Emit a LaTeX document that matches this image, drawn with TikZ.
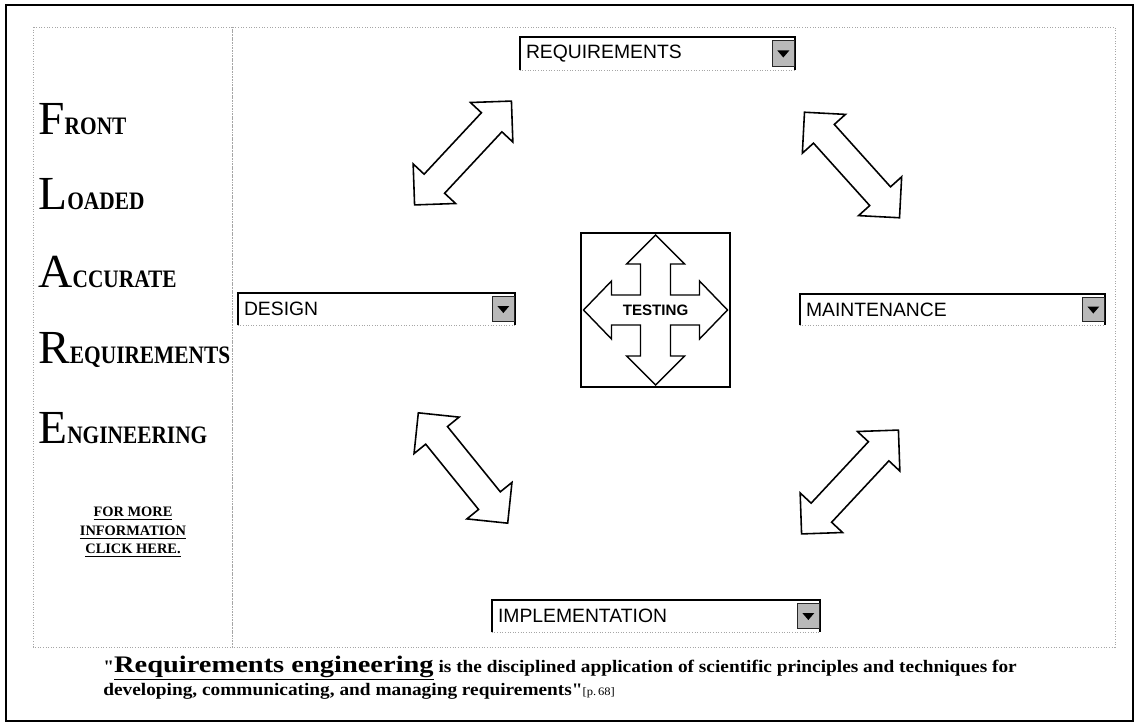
\documentclass[tikz,border=0pt]{standalone}
\usepackage{fontspec}
\setmainfont{Liberation Serif}
\newfontfamily\uifont{Liberation Sans}
\newfontfamily\capsfont[FakeStretch=0.85]{Liberation Serif}
\newfontfamily\quotefont[FakeStretch=1.1]{Liberation Serif}
\newfontfamily\keyfont[FakeStretch=1.2]{Liberation Serif}
\usetikzlibrary{calc}

\newcommand\initialword[2]{{\fontsize{27}{27}\selectfont #1}{\capsfont\bfseries\fontsize{14.3}{14.3}\selectfont #2}}

\newcommand\comboframe[1]{%
  \draw[combobottom] (#1.south west) -- (#1.south east);
  \draw[combotop] (#1.south west) -- (#1.north west) -- (#1.north east) -- (#1.south east);
  \draw[combobutton] ($(#1.north east)+(-23,4)$) rectangle ($(#1.south east)+(-1,-4)$);
  \fill ($(#1.east)+(-18,-3)$) -- ($(#1.east)+(-6,-3)$) -- ($(#1.east)+(-12,4)$) -- cycle;
}

\tikzset{
  panel/.style={draw=gray!70, densely dotted, line width=0.5pt},
  combobox/.style={inner xsep=0.12cm, inner ysep=0pt, align=left, font=\uifont\fontsize{11}{11}\selectfont},
  combotop/.style={line width=1pt},
  combobottom/.style={draw=gray!70, densely dotted, line width=0.5pt},
  combobutton/.style={fill=gray!55, draw=gray!30!black, line width=0.4pt},
  crossline/.style={line width=0.8pt, line join=miter},
  arrowline/.style={line width=0.9pt, line join=miter, fill=white},
  bigword/.style={anchor=base west, inner sep=0pt},
  quoteline/.style={anchor=base west, inner sep=0pt, font=\quotefont\bfseries\fontsize{10}{10}\selectfont},
  dblarrow/.pic={
    \draw[arrowline] (-71,0) -- (-42,-29) -- (-42,-14) -- (42,-14) -- (42,-29)
      -- (71,0) -- (42,29) -- (42,14) -- (-42,14) -- (-42,29) -- cycle;
  }
}

\begin{document}
\begin{tikzpicture}[x=0.02cm, y=-0.02cm]
        \useasboundingbox (0,0) rectangle (1138,726);

        \draw[line width=1.2pt] (6,5) rectangle (1133,721);
        \draw[panel] (33,27) rectangle (232,647);
        \draw[panel] (232,27) rectangle (1115,647);

        \node[bigword] (front) at (38,135) {\initialword{F}{RONT}};
        \node[bigword] (loaded) at (38,210) {\initialword{L}{OADED}};
        \node[bigword] (accurate) at (38,287) {\initialword{A}{CCURATE}};
        \node[bigword] (requirements) at (38,363) {\initialword{R}{EQUIREMENTS}};
        \node[bigword] (engineering) at (38,443) {\initialword{E}{NGINEERING}};

        \node[anchor=north, inner sep=0pt, align=center, font=\bfseries\fontsize{8.2}{10.5}\selectfont] (moreinfo) at (133,507)
            {\underline{FOR MORE}\\\underline{INFORMATION}\\\underline{CLICK HERE.}};

        \node[combobox, text width=5.26cm, minimum height=0.66cm] (req) at (657.5,53.5) {REQUIREMENTS};
        \comboframe{req}
        \node[combobox, text width=5.30cm, minimum height=0.64cm] (design) at (376.5,309) {DESIGN};
        \comboframe{design}
        \node[combobox, text width=5.86cm, minimum height=0.62cm] (maint) at (952.5,309.5) {MAINTENANCE};
        \comboframe{maint}
        \node[combobox, text width=6.32cm, minimum height=0.64cm] (impl) at (656,616) {IMPLEMENTATION};
        \comboframe{impl}

        \node[draw, line width=0.9pt, minimum width=2.98cm, minimum height=3.08cm,
              font=\uifont\bfseries\fontsize{8.6}{8.6}\selectfont] (testing) at (655.5,310) {TESTING};
        \draw[crossline, shift={(testing.center)}] (0,-75) -- (29,-46) -- (15,-46) -- (15,-15) -- (44,-15) -- (44,-29)
            -- (72,0) -- (44,29) -- (44,15) -- (15,15) -- (15,46) -- (29,46) -- (0,75) -- (-29,46) -- (-15,46)
            -- (-15,15) -- (-44,15) -- (-44,29) -- (-72,0) -- (-44,-29) -- (-44,-15) -- (-15,-15) -- (-15,-46)
            -- (-29,-46) -- cycle;

        \pic[rotate=47] at (463,153) {dblarrow};
        \pic[rotate=-48] at (852,165) {dblarrow};
        \pic[rotate=-51] at (463,468) {dblarrow};
        \pic[rotate=47] at (850,482) {dblarrow};

        \node[quoteline] (quote1) at (103,672)
            {"\underline{\keyfont\fontsize{13.5}{13.5}\selectfont Requirements engineering} is the disciplined application of scientific principles and techniques for};
        \node[quoteline] (quote2) at (103,695)
            {developing, communicating, and managing requirements"{\mdseries\fontsize{6.5}{6.5}\selectfont[p.\,68]}};

    \end{tikzpicture}
\end{document}
